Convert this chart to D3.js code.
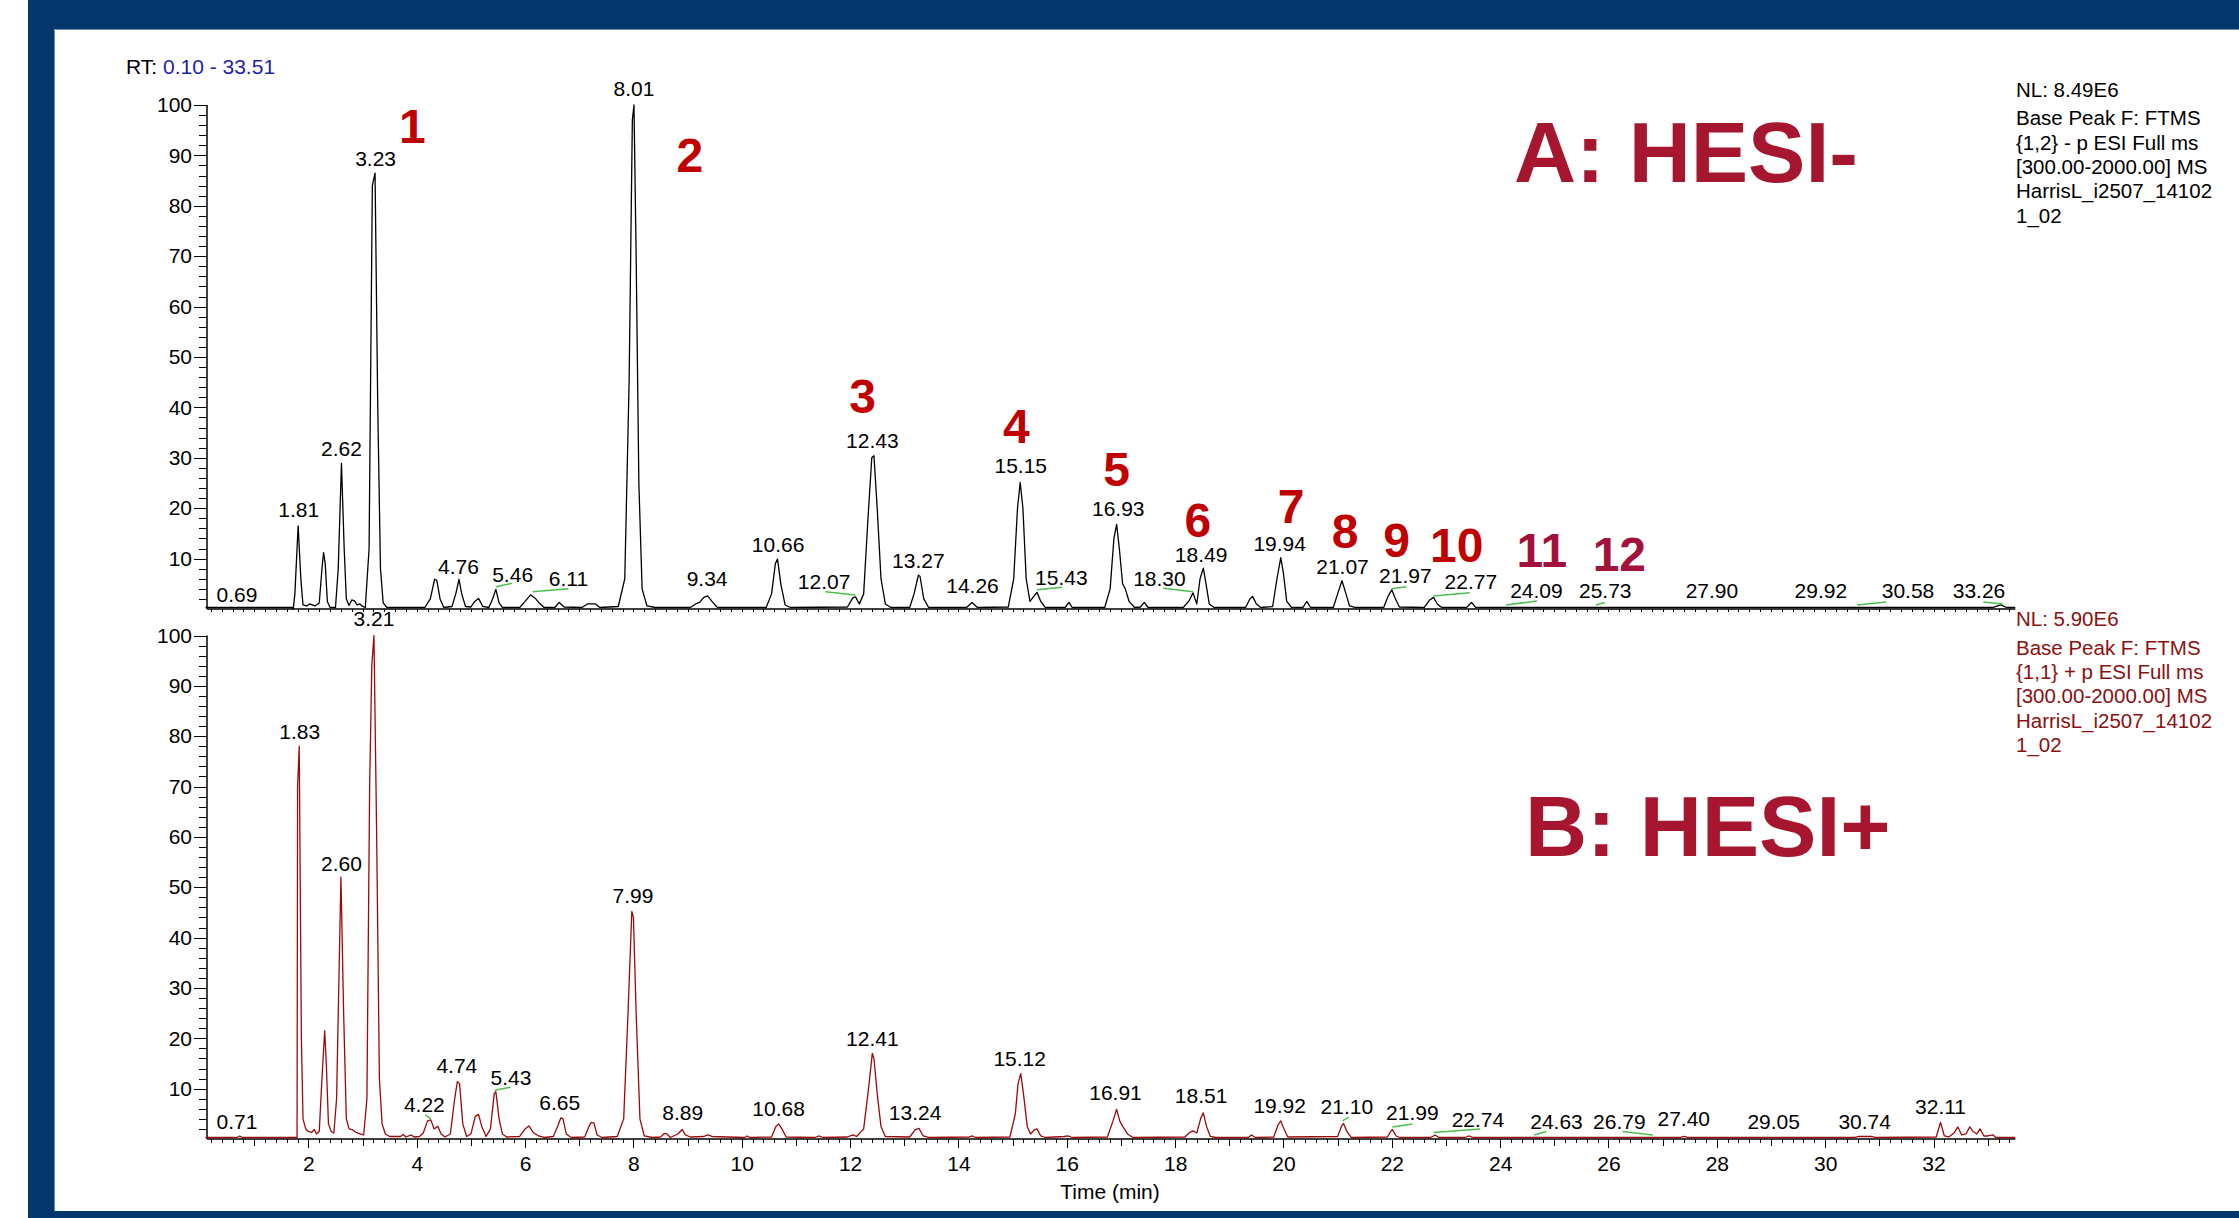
<!doctype HTML>
<html lang="en">
<head>
<title>HESI- / HESI+ base peak chromatograms</title>
<script src="https://d3js.org/d3.v7.min.js"></script>
<style type="text/css">
  body { margin: 0; background: #ffffff; }
  text { font-family: "Liberation Sans", Arial, sans-serif; }
  .axis path { display: none; }
  .axis line { stroke: black; shape-rendering: crispEdges; }
  .axis text { font-size: 21px; fill: black; }
</style>
</head>
<body>
<script type="text/javascript">

// ---- data: [time (min), relative abundance %] ----
var traceA = [[0.10,0.3],[1.70,0.3],[1.72,0],[1.75,3],[1.81,16.5],[1.86,6],[1.90,0.8],[1.97,0.6],[2.02,1],[2.07,0.8],[2.12,0.6],[2.20,1.2],[2.25,8],[2.28,11.2],[2.31,9],[2.35,1.5],[2.40,0.3],[2.50,0.3],[2.55,8],[2.61,28.9],[2.66,12],[2.70,2],[2.75,0.7],[2.80,1.8],[2.85,1.6],[2.90,0.8],[2.95,1],[3.00,0.5],[3.05,0.3],[3.12,12],[3.18,84],[3.23,86.5],[3.28,40],[3.33,8],[3.38,1.2],[3.45,0.3],[4.15,0.3],[4.25,2],[4.33,5.9],[4.37,5.7],[4.43,2],[4.50,0.3],[4.65,0.5],[4.72,3],[4.78,5.9],[4.83,3],[4.90,0.5],[5.00,0.4],[5.07,1.5],[5.14,2.1],[5.22,0.5],[5.33,0.3],[5.40,2],[5.46,3.9],[5.52,1.2],[5.58,0.3],[5.90,0.3],[6.00,1.5],[6.10,2.8],[6.18,2.2],[6.25,1.3],[6.35,0.3],[6.55,0.3],[6.63,1.3],[6.72,0.4],[7.05,0.3],[7.15,1],[7.30,1],[7.38,0.3],[7.72,0.5],[7.84,6],[7.92,45],[7.98,97],[8.01,100],[8.05,70],[8.10,25],[8.16,4],[8.25,0.6],[8.40,0.3],[9.05,0.3],[9.15,1],[9.22,1.3],[9.30,2.3],[9.37,2.6],[9.45,1.5],[9.55,0.3],[10.45,0.3],[10.55,3],[10.62,9],[10.66,9.9],[10.72,5],[10.80,0.8],[10.90,0.3],[11.95,0.4],[12.05,2.2],[12.10,2.4],[12.17,1],[12.25,3],[12.33,18],[12.40,30],[12.44,30.4],[12.50,20],[12.57,6],[12.65,1],[12.75,0.3],[13.10,0.3],[13.18,3],[13.26,6.7],[13.29,6.5],[13.36,2],[13.45,0.3],[14.15,0.3],[14.25,1.3],[14.35,0.3],[14.92,0.4],[15.02,6],[15.09,20],[15.14,25.1],[15.19,20],[15.25,6],[15.32,1.5],[15.39,2.5],[15.45,3.3],[15.52,1.5],[15.60,0.3],[15.97,0.3],[16.04,1.3],[16.10,0.3],[16.70,0.3],[16.80,4],[16.87,14],[16.92,16.8],[16.97,12],[17.03,5],[17.08,4],[17.15,1.5],[17.25,0.3],[17.36,0.4],[17.43,1.3],[17.50,0.3],[18.15,0.3],[18.25,1.5],[18.33,3.2],[18.40,1],[18.46,6],[18.52,8.1],[18.57,5],[18.63,1],[18.72,0.3],[19.30,0.3],[19.38,2],[19.43,2.5],[19.50,1],[19.58,0.3],[19.80,0.5],[19.88,6],[19.95,10.2],[20.00,7],[20.06,1.5],[20.15,0.3],[20.36,0.3],[20.43,1.5],[20.50,0.3],[20.92,0.3],[21.00,3],[21.08,5.6],[21.14,3.5],[21.22,0.6],[21.32,0.3],[21.85,0.3],[21.93,2.5],[22.00,3.8],[22.06,2.2],[22.14,0.4],[22.60,0.3],[22.70,1.8],[22.77,2.3],[22.84,1],[22.92,0.3],[23.38,0.3],[23.47,1.3],[23.55,0.3],[24.10,0.3],[33.10,0.3],[33.24,0.8],[33.35,0.3],[33.51,0.3]];

var traceB = [[0.10,0.3],[0.68,0.3],[0.73,0.6],[0.78,0.3],[1.78,0.3],[1.79,0.3],[1.80,70],[1.83,78],[1.87,20],[1.90,4],[1.95,2],[2.00,1.5],[2.06,1.3],[2.11,1.9],[2.15,1],[2.20,1.5],[2.25,12],[2.30,21.5],[2.33,15],[2.37,3],[2.42,1.5],[2.47,1.2],[2.52,8],[2.60,52],[2.65,25],[2.70,4],[2.75,2],[2.82,1.8],[2.88,1.3],[2.95,1],[3.02,0.8],[3.08,8],[3.13,70],[3.17,94],[3.21,100],[3.26,60],[3.31,12],[3.36,3],[3.42,1],[3.50,0.5],[3.70,0.5],[3.75,0.9],[3.80,0.4],[3.90,0.8],[3.95,0.4],[4.05,0.5],[4.12,1.2],[4.20,3.6],[4.26,3.8],[4.32,2],[4.39,2.5],[4.45,1],[4.52,0.4],[4.62,1],[4.70,8],[4.75,11.4],[4.79,11],[4.85,3],[4.92,0.5],[5.00,1],[5.08,4.5],[5.14,4.9],[5.20,2.5],[5.28,0.5],[5.36,2],[5.43,9],[5.46,9.4],[5.52,4],[5.58,1],[5.66,0.4],[5.90,0.5],[6.00,2],[6.07,2.6],[6.15,1.3],[6.25,0.6],[6.35,0.3],[6.52,0.5],[6.60,2.5],[6.66,4.2],[6.70,4],[6.76,1],[6.85,0.3],[7.10,0.4],[7.18,2.5],[7.22,3.3],[7.27,3.2],[7.33,0.8],[7.42,0.3],[7.70,0.5],[7.82,4],[7.90,25],[7.97,45.2],[8.00,44],[8.05,25],[8.12,4],[8.20,0.6],[8.35,0.3],[8.50,0.4],[8.57,1.1],[8.62,1],[8.68,0.3],[8.82,1],[8.90,1.9],[8.96,0.8],[9.05,0.4],[9.30,0.5],[9.37,0.8],[9.45,0.5],[10.05,0.3],[10.10,0.6],[10.15,0.3],[10.55,0.4],[10.63,2.5],[10.68,3],[10.73,2.2],[10.82,0.4],[11.35,0.3],[11.42,0.6],[11.50,0.3],[11.95,0.4],[12.05,0.8],[12.12,0.5],[12.25,2],[12.34,10],[12.41,17],[12.44,16],[12.50,9],[12.57,2.5],[12.65,0.5],[13.10,0.4],[13.20,1.8],[13.27,2.1],[13.35,0.6],[13.45,0.3],[14.20,0.4],[14.26,0.6],[14.32,0.3],[14.95,0.4],[15.05,5],[15.10,11],[15.15,13],[15.20,9],[15.27,2.5],[15.33,1],[15.40,1.8],[15.45,2],[15.52,0.6],[15.60,0.3],[15.95,0.5],[16.02,0.6],[16.10,0.3],[16.75,0.4],[16.85,3.5],[16.92,5.9],[16.98,3.5],[17.05,2.2],[17.12,1],[17.22,0.3],[18.18,0.4],[18.27,1.3],[18.33,1.6],[18.40,1.2],[18.47,4],[18.52,5.2],[18.58,2.5],[18.65,0.5],[18.75,0.3],[19.35,0.3],[19.41,0.8],[19.48,0.3],[19.82,0.4],[19.90,2.8],[19.95,3.6],[20.01,2],[20.08,0.4],[21.00,0.5],[21.07,2.5],[21.11,3.1],[21.17,1.5],[21.25,0.3],[21.92,0.4],[21.98,1.5],[22.01,1.9],[22.08,0.6],[22.15,0.3],[22.72,0.3],[22.80,0.8],[22.87,0.3],[23.35,0.3],[23.42,0.6],[23.50,0.3],[27.33,0.3],[27.40,0.5],[27.46,0.3],[30.55,0.3],[30.62,0.5],[30.85,0.5],[30.92,0.3],[32.05,0.4],[32.13,3.3],[32.20,0.6],[32.28,0.4],[32.38,1.2],[32.45,2.4],[32.52,0.8],[32.60,1],[32.67,2.4],[32.73,1.5],[32.80,1],[32.86,2],[32.93,0.6],[33.00,0.6],[33.10,0.8],[33.15,0.3],[33.51,0.3]];

// peak labels: [text, time, abundance at text baseline]
var labelsA = [["0.69",0.68,1.4],["1.81",1.82,18.2],["2.62",2.61,30.3],["3.23",3.24,87.8],["4.76",4.77,7.0],["5.46",5.77,5.4],["6.11",6.80,4.5],["8.01",8.01,101.7],["9.34",9.36,4.5],["10.66",10.67,11.3],["12.07",11.52,4.0],["12.43",12.41,32.0],["13.27",13.26,8.2],["14.26",14.26,3.1],["15.15",15.15,26.9],["15.43",15.90,4.8],["16.93",16.95,18.4],["18.30",17.71,4.5],["18.49",18.48,9.3],["19.94",19.93,11.6],["21.07",21.09,7.0],["21.97",22.25,5.1],["22.77",23.46,4.0],["24.09",24.67,2.2],["25.73",25.94,2.2],["27.90",27.91,2.2],["29.92",29.92,2.2],["30.58",31.53,2.2],["33.26",32.84,2.2]];

var labelsB = [["0.71",0.68,2.0],["1.83",1.84,79.4],["2.60",2.61,53.3],["3.21",3.21,101.8],["4.22",4.14,5.4],["4.74",4.74,13.1],["5.43",5.74,10.8],["6.65",6.64,5.7],["7.99",7.99,46.8],["8.89",8.91,3.7],["10.68",10.68,4.5],["12.41",12.41,18.5],["13.24",13.20,3.7],["15.12",15.13,14.5],["16.91",16.90,7.7],["18.51",18.48,7.1],["19.92",19.93,5.1],["21.10",21.17,4.9],["21.99",22.38,3.7],["22.74",23.59,2.3],["24.63",25.04,2.0],["26.79",26.20,2.0],["27.40",27.39,2.6],["29.05",29.05,2.0],["30.74",30.73,2.0],["32.11",32.13,4.9]];

// green leader lines: [t1, p1, t2, p2]
var leadersA = [[5.46,4.4,5.76,5.1],[6.14,3.4,6.80,4.0],[11.54,3.4,12.10,2.8],[15.45,3.8,15.91,4.3],[17.78,4.1,18.33,3.4],[22.00,4.0,22.27,4.4],[22.77,2.6,23.44,3.2],[24.11,0.8,24.68,1.6],[25.77,0.8,25.93,1.3],[30.59,0.8,31.13,1.4],[32.92,1.4,33.28,1.0]];
var leadersB = [[4.16,4.8,4.26,4.0],[5.44,9.7,5.73,10.3],[21.09,3.6,21.20,4.3],[22.01,2.4,22.38,3.0],[22.77,1.3,23.63,2.0],[24.63,0.8,24.85,1.5],[26.26,1.5,26.82,0.8]];

// compound numbers on panel A: [text, time, abundance at baseline]
var compoundNumbers = [["1",3.92,92.4],["2",9.04,86.8],["3",12.23,38.9],["4",15.07,32.9],["5",16.92,24.4],["6",18.42,14.2],["7",20.14,17.1],["8",21.14,12.2],["9",22.09,10.3],["10",23.20,9.4],["11",24.77,8.3],["12",26.20,7.5]];

var yTickValues = [10,20,30,40,50,60,70,80,90,100];
var xTickValues = [2,4,6,8,10,12,14,16,18,20,22,24,26,28,30,32];
var rtRange = [0.10, 33.51];

var infoA = ["NL: 8.49E6","Base Peak F: FTMS","{1,2}  - p ESI Full ms","[300.00-2000.00]  MS","HarrisL_i2507_14102","1_02"];
var infoB = ["NL: 5.90E6","Base Peak F: FTMS","{1,1}  + p ESI Full ms","[300.00-2000.00]  MS","HarrisL_i2507_14102","1_02"];

// ---- layout ----
var W = 2239, H = 1218;
var navy = "#03366a";

var svg = d3.select("body").append("svg")
	.attr("width", W)
	.attr("height", H);

// frame
svg.append("rect").attr("x", 28).attr("y", 0).attr("width", W - 28).attr("height", 29).attr("fill", navy);
svg.append("rect").attr("x", 28).attr("y", 0).attr("width", 26).attr("height", H).attr("fill", navy);
svg.append("rect").attr("x", 28).attr("y", 1211).attr("width", W - 28).attr("height", 7).attr("fill", navy);
svg.append("path").attr("d", "M54.5,1211 V29.5 H" + W)
	.attr("fill", "none").attr("stroke", "#6f8fb5").attr("stroke-width", 1);

var x = d3.scaleLinear().domain(rtRange).range([205.5, 2015.3]);
var yA = d3.scaleLinear().domain([0, 100]).range([609, 105]);
var yB = d3.scaleLinear().domain([0, 100]).range([1139, 635.5]);

var axisX = 207;

function drawYAxis(y) {
	svg.append("g").attr("class", "axis")
		.attr("transform", "translate(" + axisX + ",0)")
		.call(d3.axisLeft(y).tickValues(d3.range(2, 101, 2)).tickSize(8).tickFormat(""));
	svg.append("g").attr("class", "axis")
		.attr("transform", "translate(" + axisX + ",0)")
		.call(d3.axisLeft(y).tickValues(yTickValues).tickSize(13).tickPadding(2));
	svg.append("line")
		.attr("x1", axisX).attr("x2", axisX)
		.attr("y1", y(100)).attr("y2", y(0))
		.attr("stroke", "black").attr("stroke-width", 1.5);
}

function drawXAxis(y, withLabels) {
	var g = svg.append("g").attr("transform", "translate(0," + y(0) + ")");
	var minor = d3.range(1, 168).map(function(i) { return i * 0.2; })
		.filter(function(v) { return v > rtRange[0] && v < rtRange[1] && Math.abs(v - Math.round(v)) > 0.01; });
	g.append("g").attr("class", "axis")
		.call(d3.axisBottom(x).tickValues(minor).tickSize(withLabels ? 4 : 3).tickFormat(""));
	if (withLabels) {
		g.append("g").attr("class", "axis")
			.call(d3.axisBottom(x).tickValues(d3.range(1, 34, 2)).tickSize(7).tickFormat(""));
		g.append("g").attr("class", "axis")
			.call(d3.axisBottom(x).tickValues(xTickValues).tickSize(9).tickPadding(8));
	} else {
		g.append("g").attr("class", "axis")
			.call(d3.axisBottom(x).tickValues(d3.range(1, 34)).tickSize(3).tickFormat(""));
	}
	g.append("line")
		.attr("x1", axisX).attr("x2", x(rtRange[1]))
		.attr("stroke", "black").attr("stroke-width", 1.5);
}

function drawTrace(data, y, colour) {
	svg.append("path")
		.datum(data)
		.attr("fill", "none")
		.attr("stroke", colour)
		.attr("stroke-width", 1.3)
		.attr("stroke-linejoin", "round")
		.attr("d", d3.line()
			.x(function(d) { return x(d[0]); })
			.y(function(d) { return y(d[1]); }));
}

function drawLabels(labels, leaders, y) {
	svg.append("g").selectAll("line")
		.data(leaders)
		.enter()
		.append("line")
		.attr("x1", function(d) { return x(d[0]); })
		.attr("y1", function(d) { return y(d[1]); })
		.attr("x2", function(d) { return x(d[2]); })
		.attr("y2", function(d) { return y(d[3]); })
		.attr("stroke", "#4cbf4c")
		.attr("stroke-width", 1.5);

	svg.append("g").selectAll("text")
		.data(labels)
		.enter()
		.append("text")
		.attr("x", function(d) { return x(d[1]); })
		.attr("y", function(d) { return y(d[2]); })
		.attr("text-anchor", "middle")
		.attr("font-size", "21px")
		.attr("fill", "black")
		.text(function(d) { return d[0]; });
}

function drawInfo(lines, top, colour) {
	svg.append("g").selectAll("text")
		.data(lines)
		.enter()
		.append("text")
		.attr("x", 2016)
		.attr("y", function(d, i) { return i == 0 ? top : top + 4.5 + i * 24.3; })
		.attr("font-size", "20.5px")
		.attr("fill", colour)
		.text(function(d) { return d; });
}

// panel A
drawYAxis(yA);
drawXAxis(yA, false);
drawTrace(traceA, yA, "black");
drawLabels(labelsA, leadersA, yA);

// panel B
drawYAxis(yB);
drawXAxis(yB, true);
drawTrace(traceB, yB, "#9b0a0a");
drawLabels(labelsB, leadersB, yB);

svg.append("g").selectAll("text")
	.data(compoundNumbers)
	.enter()
	.append("text")
	.attr("x", function(d) { return x(d[1]); })
	.attr("y", function(d) { return yA(d[2]); })
	.attr("text-anchor", "middle")
	.attr("font-size", "48px")
	.attr("font-weight", "bold")
	.attr("fill", function(d) { return +d[0] > 10 ? "#a3123c" : "#c00000"; })
	.text(function(d) { return d[0]; });

// panel titles
svg.append("text").attr("x", 1514).attr("y", 182)
	.attr("font-size", "86px").attr("font-weight", "bold").attr("fill", "#a6172f")
	.text("A: HESI-");
svg.append("text").attr("x", 1525).attr("y", 856)
	.attr("font-size", "86px").attr("font-weight", "bold").attr("fill", "#a6172f")
	.text("B: HESI+");

drawInfo(infoA, 96.5, "black");
drawInfo(infoB, 626, "#8b1010");

// RT range
var rt = svg.append("text").attr("x", 126).attr("y", 73.5).attr("font-size", "21px");
rt.append("tspan").attr("fill", "black").text("RT: ");
rt.append("tspan").attr("fill", "#1f1fa8").text(rtRange[0].toFixed(2) + " - " + rtRange[1].toFixed(2));

// x axis title
svg.append("text")
	.attr("x", 1110).attr("y", 1199)
	.attr("text-anchor", "middle")
	.attr("font-size", "21px")
	.text("Time (min)");

</script>
</body>
</html>
